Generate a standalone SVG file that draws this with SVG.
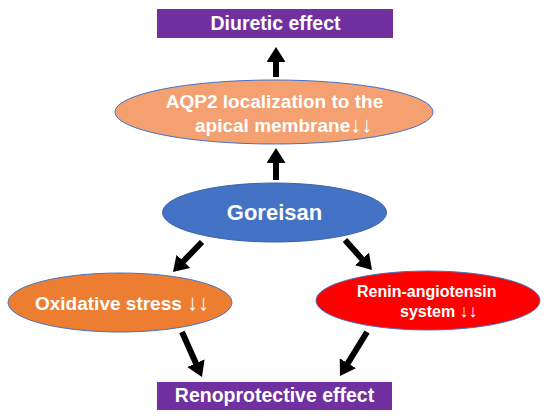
<svg xmlns="http://www.w3.org/2000/svg" width="550" height="419" viewBox="0 0 550 419">
<style>
.t{font-family:"Liberation Sans",Arial,sans-serif;font-weight:bold;fill:#ffffff}
.box{fill:#7030A0}
.el{stroke:#4472C4;stroke-width:1}
.con{stroke:#000;stroke-width:6;fill:none;marker-end:url(#ah)}
.dn{font-size:22px}
</style>
<defs>
<marker id="ah" markerUnits="userSpaceOnUse" markerWidth="17" markerHeight="19" refX="2" refY="9.5" orient="auto" viewBox="0 0 17 19">
<path d="M0,0 L15,9.5 L0,19 z" fill="#000"/>
</marker>
</defs>
<rect width="550" height="419" fill="#fff"/>
<g id="connectors">
<line class="con" x1="276" y1="77" x2="276" y2="60"/>
<line class="con" x1="276" y1="180" x2="276" y2="161"/>
<line class="con" x1="202" y1="242" x2="182" y2="262.7"/>
<line class="con" x1="345" y1="240" x2="363.3" y2="260.4"/>
<line class="con" x1="182" y1="332" x2="196.7" y2="365"/>
<line class="con" x1="367" y1="332" x2="346.8" y2="364.9"/>
</g>
<g id="diuretic">
<rect class="box" x="157" y="9" width="236" height="29"/>
<text class="t" x="275.5" y="30" font-size="19.5" text-anchor="middle">Diuretic effect</text>
</g>
<g id="aqp2">
<ellipse class="el" cx="274" cy="112" rx="159" ry="32" fill="#F4A070"/>
<text class="t" x="274.5" y="108" font-size="19" text-anchor="middle">AQP2 localization to the</text>
<text class="t" x="195" y="132" font-size="19">apical membrane<tspan class="dn">↓↓</tspan></text>
</g>
<g id="goreisan">
<ellipse cx="274.5" cy="212.5" rx="112" ry="29.5" fill="#4472C4" stroke="#3A62A8" stroke-width="1"/>
<text class="t" x="274.5" y="220" font-size="22" text-anchor="middle">Goreisan</text>
</g>
<g id="oxidative">
<ellipse class="el" cx="120" cy="302.5" rx="112" ry="29.5" fill="#ED7D31"/>
<text class="t" x="35" y="310" font-size="19">Oxidative stress <tspan class="dn">↓↓</tspan></text>
</g>
<g id="renin">
<ellipse class="el" cx="428" cy="300.5" rx="112" ry="29.5" fill="#FF0000"/>
<text class="t" x="357" y="297" font-size="16">Renin-angiotensin</text>
<text class="t" x="400" y="317" font-size="16">system <tspan font-size="18">↓↓</tspan></text>
</g>
<g id="renoprotective">
<rect class="box" x="157" y="382" width="235" height="28"/>
<text class="t" x="274.5" y="402" font-size="19.5" text-anchor="middle">Renoprotective effect</text>
</g>
</svg>
